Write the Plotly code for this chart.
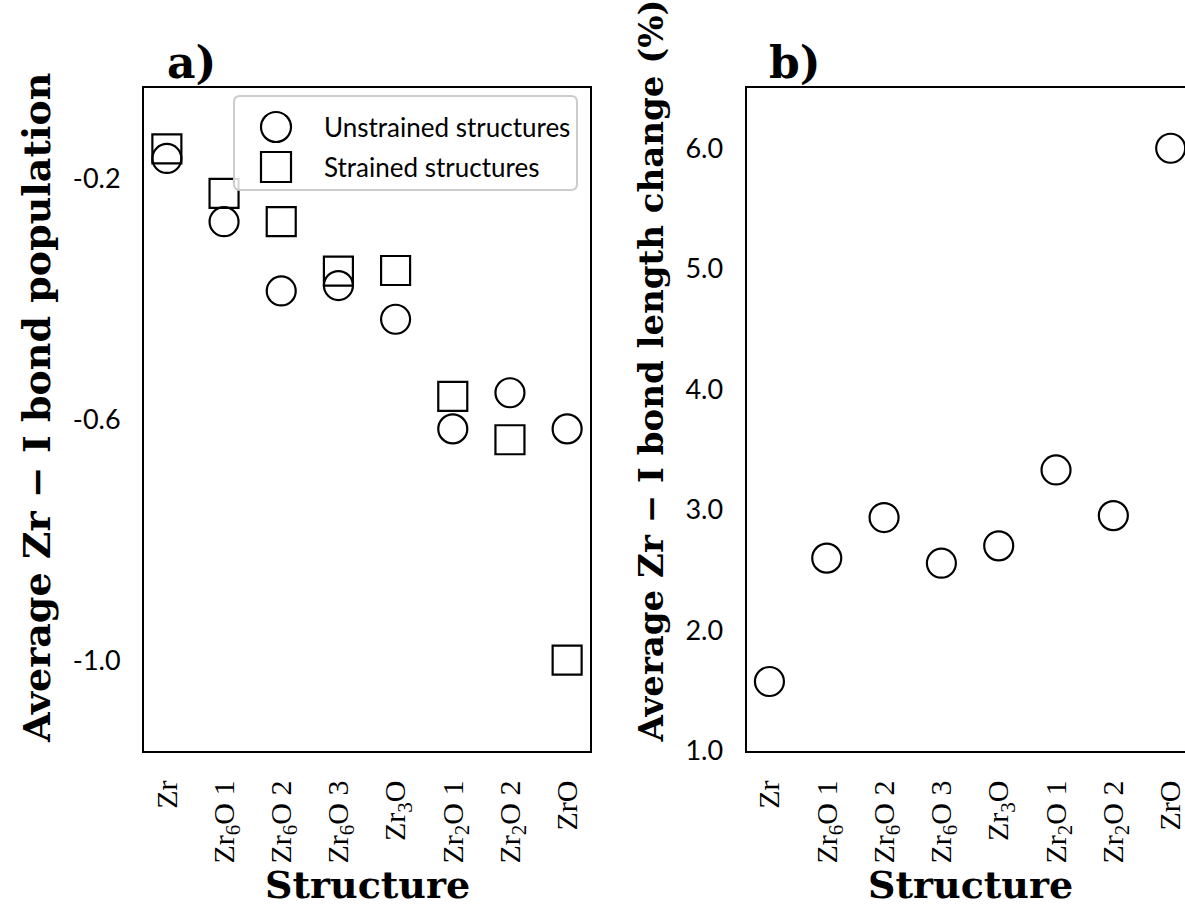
import plotly.graph_objects as go

# ---------------- data ----------------
categories = ["Zr", "Zr6O 1", "Zr6O 2", "Zr6O 3", "Zr3O", "Zr2O 1", "Zr2O 2", "ZrO"]
tick_labels = ["Zr", "Zr<sub>6</sub>O 1", "Zr<sub>6</sub>O 2", "Zr<sub>6</sub>O 3",
               "Zr<sub>3</sub>O", "Zr<sub>2</sub>O 1", "Zr<sub>2</sub>O 2", "ZrO"]
unstrained_pop = [-0.167, -0.272, -0.387, -0.378, -0.434, -0.616, -0.556, -0.616]
strained_pop = [-0.151, -0.225, -0.272, -0.354, -0.353, -0.562, -0.634, -1.0]
length_change = [1.573, 2.597, 2.934, 2.555, 2.699, 3.329, 2.950, 6.0]
pop_ticks = [-0.2, -0.6, -1.0]
pop_tick_text = ["-0.2", "-0.6", "-1.0"]
len_ticks = [1.0, 2.0, 3.0, 4.0, 5.0, 6.0]
len_tick_text = ["1.0", "2.0", "3.0", "4.0", "5.0", "6.0"]
legend_names = ["Unstrained structures", "Strained structures"]

# ---------------- layout helpers ----------------
W, H = 1185, 911
def px(x):
    return x / W
def py(y):
    return 1 - y / H

SERIF = "DejaVu Serif"
TICKSERIF = "Liberation Serif"
SANS = "Lato"
MS = 29
LW = 2.2

fig = go.Figure()
fig.add_trace(go.Scatter(x=categories, y=unstrained_pop, mode="markers", name=legend_names[0],
                         marker=dict(symbol="circle-open", size=MS, color="black", line=dict(width=LW)),
                         xaxis="x", yaxis="y", showlegend=False))
fig.add_trace(go.Scatter(x=categories, y=strained_pop, mode="markers", name=legend_names[1],
                         marker=dict(symbol="square-open", size=MS, color="black", line=dict(width=LW)),
                         xaxis="x", yaxis="y", showlegend=False))
fig.add_trace(go.Scatter(x=categories, y=length_change, mode="markers", name="length change",
                         marker=dict(symbol="circle-open", size=MS, color="black", line=dict(width=LW)),
                         xaxis="x2", yaxis="y2", showlegend=False))

axis_common = dict(showgrid=False, zeroline=False, showline=True, linecolor="black", linewidth=2,
                   ticks="", automargin=False)
xcommon = dict(axis_common, type="category", tickvals=categories, ticktext=tick_labels,
               tickangle=-90, tickfont=dict(family=TICKSERIF, size=30, color="black"),
               ticklabelstandoff=16)

fig.update_layout(
    width=W, height=H, autosize=False,
    margin=dict(l=0, r=0, t=0, b=0, pad=0),
    paper_bgcolor="white", plot_bgcolor="white",
    showlegend=False,
    xaxis=dict(xcommon, domain=[px(144), px(590)], range=[-0.4, 7.4], mirror=True, anchor="y"),
    yaxis=dict(axis_common, domain=[py(750.5), py(88)], range=[-1.15, -0.05], mirror=True,
               tickvals=pop_ticks, ticktext=pop_tick_text, anchor="x",
               tickfont=dict(family=SANS, size=27, color="black"), ticklabelstandoff=16),
    xaxis2=dict(xcommon, domain=[px(746.5), 1.0], range=[-0.4, 7.25], mirror=True, anchor="y2"),
    yaxis2=dict(axis_common, domain=[py(750.5), py(88)], range=[1.0, 6.5], mirror=False,
                tickvals=len_ticks, ticktext=len_tick_text, anchor="x2",
                tickfont=dict(family=SANS, size=27, color="black"), ticklabelstandoff=16),
)

# legend box (rounded rectangle) drawn above the data
x0, x1, y0, y1, r = px(234), px(577), py(190), py(96), 6
rx, ry = r / W, r / H
path = (f"M {x0+rx},{y1} L {x1-rx},{y1} Q {x1},{y1} {x1},{y1-ry} "
        f"L {x1},{y0+ry} Q {x1},{y0} {x1-rx},{y0} "
        f"L {x0+rx},{y0} Q {x0},{y0} {x0},{y0+ry} "
        f"L {x0},{y1-ry} Q {x0},{y1} {x0+rx},{y1} Z")
fig.add_shape(type="path", path=path, xref="paper", yref="paper",
              line=dict(color="#cccccc", width=2), fillcolor="rgba(255,255,255,0.85)", layer="above")
# legend symbols
fig.add_shape(type="circle", xref="paper", yref="paper",
              x0=px(276 - 15), x1=px(276 + 15), y0=py(127 + 15), y1=py(127 - 15),
              line=dict(color="black", width=LW), layer="above")
fig.add_shape(type="rect", xref="paper", yref="paper",
              x0=px(276 - 15), x1=px(276 + 15), y0=py(167 + 15), y1=py(167 - 15),
              line=dict(color="black", width=LW), layer="above")
for name, yy in zip(legend_names, [127, 167]):
    fig.add_annotation(text=name, x=px(322), y=py(yy), xref="paper", yref="paper",
                       xanchor="left", yanchor="middle", showarrow=False,
                       font=dict(family=SANS, size=26, color="black"))

# panel labels
for lab, xx in [("a)", 191), ("b)", 795)]:
    fig.add_annotation(text=f"<b>{lab}</b>", x=px(xx), y=py(63), xref="paper", yref="paper",
                       xanchor="center", yanchor="middle", showarrow=False,
                       font=dict(family=SERIF, size=44, color="black"))

# axis titles
fig.add_annotation(text="<b>Average Zr − I bond population</b>", x=px(36), y=py(745),
                   xref="paper", yref="paper", textangle=-90, showarrow=False,
                   xanchor="center", yanchor="bottom", font=dict(family=SERIF, size=38, color="black"))
fig.add_annotation(text="<b>Average Zr − I bond length change (%)</b>", x=px(650), y=py(745),
                   xref="paper", yref="paper", textangle=-90, showarrow=False,
                   xanchor="center", yanchor="bottom", font=dict(family=SERIF, size=34, color="black"))
for xx in [367, 970]:
    fig.add_annotation(text="<b>Structure</b>", x=px(xx), y=py(884), xref="paper", yref="paper",
                       xanchor="center", yanchor="middle", showarrow=False,
                       font=dict(family=SERIF, size=38, color="black"))

fig.write_html("out.html", config={"responsive": False})
